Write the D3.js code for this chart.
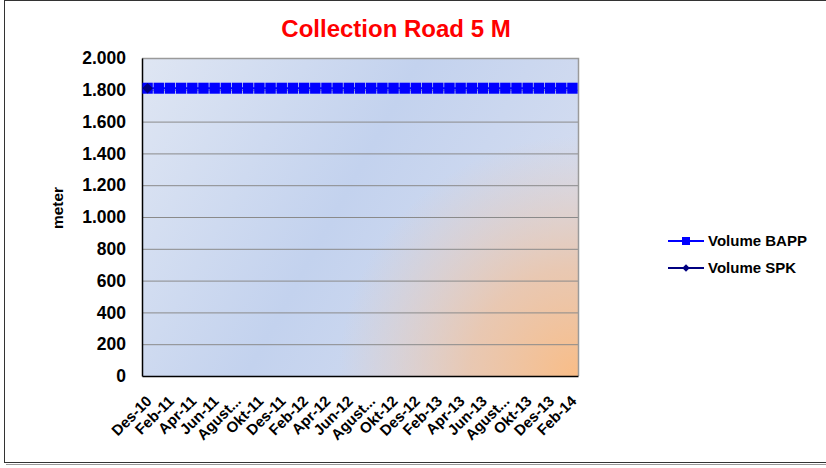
<!DOCTYPE html>
<html>
<head>
<meta charset="utf-8">
<script src="https://cdn.jsdelivr.net/npm/d3@7"></script>
<style>
  body { margin: 0; background: #fff; }
  svg { font-family: "Liberation Sans", Arial, sans-serif; }
</style>
</head>
<body>
<svg width="826" height="468"></svg>
<script>
const months = ['Des-10', 'Jan-11', 'Feb-11', 'Mar-11', 'Apr-11', 'Mei-11', 'Jun-11', 'Jul-11', 'Agustus-11', 'Sep-11', 'Okt-11', 'Nov-11',
  'Des-11', 'Jan-12', 'Feb-12', 'Mar-12', 'Apr-12', 'Mei-12', 'Jun-12', 'Jul-12', 'Agustus-12', 'Sep-12', 'Okt-12', 'Nov-12',
  'Des-12', 'Jan-13', 'Feb-13', 'Mar-13', 'Apr-13', 'Mei-13', 'Jun-13', 'Jul-13', 'Agustus-13', 'Sep-13', 'Okt-13', 'Nov-13',
  'Des-13', 'Jan-14', 'Feb-14'];
const volumeBAPP = [1810, 1810, 1810, 1810, 1810, 1810, 1810, 1810, 1810, 1810, 1810, 1810, 1810,
  1810, 1810, 1810, 1810, 1810, 1810, 1810, 1810, 1810, 1810, 1810, 1810, 1810,
  1810, 1810, 1810, 1810, 1810, 1810, 1810, 1810, 1810, 1810, 1810, 1810, 1810];
const volumeSPK = [1810, null, null, null, null, null, null, null, null, null, null, null, null,
  null, null, null, null, null, null, null, null, null, null, null, null, null,
  null, null, null, null, null, null, null, null, null, null, null, null, null];
const yTicks = [0, 200, 400, 600, 800, 1000, 1200, 1400, 1600, 1800, 2000];
const seriesNames = ['Volume BAPP', 'Volume SPK'];

const svg = d3.select('svg');
const plot = { left: 142, right: 578, top: 58, bottom: 376 };

// outer frame
svg.append('rect').attr('x', 4.5).attr('y', 0.5).attr('width', 830).attr('height', 462)
  .attr('fill', '#fff').attr('stroke', '#333').attr('stroke-width', 1);
svg.append('line').attr('x1', 6).attr('x2', 826).attr('y1', 464.5).attr('y2', 464.5)
  .attr('stroke', '#999').attr('stroke-width', 1);

// gradients
const defs = svg.append('defs');
const lin = defs.append('linearGradient').attr('id', 'bg')
  .attr('x1', '0%').attr('y1', '0%').attr('x2', '100%').attr('y2', '40%');
lin.append('stop').attr('offset', '0%').attr('stop-color', '#dfe6f3');
lin.append('stop').attr('offset', '55%').attr('stop-color', '#c3d2ee');
lin.append('stop').attr('offset', '100%').attr('stop-color', '#d3dcf0');
const rad = defs.append('radialGradient').attr('id', 'glow')
  .attr('gradientUnits', 'userSpaceOnUse')
  .attr('cx', plot.right).attr('cy', plot.bottom).attr('r', 240);
rad.append('stop').attr('offset', '0%').attr('stop-color', '#f9bd87').attr('stop-opacity', 1);
rad.append('stop').attr('offset', '45%').attr('stop-color', '#eec3a3').attr('stop-opacity', 0.8);
rad.append('stop').attr('offset', '100%').attr('stop-color', '#e8c8b4').attr('stop-opacity', 0);

const x = d3.scaleBand().domain(months).range([plot.left, plot.right]).padding(0);
const y = d3.scaleLinear().domain([0, 2000]).range([plot.bottom, plot.top]);

svg.append('rect').attr('x', plot.left).attr('y', plot.top)
  .attr('width', plot.right - plot.left).attr('height', plot.bottom - plot.top)
  .attr('fill', 'url(#bg)');
svg.append('rect').attr('x', plot.left).attr('y', plot.top)
  .attr('width', plot.right - plot.left).attr('height', plot.bottom - plot.top)
  .attr('fill', 'url(#glow)');

// grid
svg.append('g').selectAll('line').data(yTicks.slice(1, -1)).join('line')
  .attr('x1', plot.left).attr('x2', plot.right)
  .attr('y1', d => y(d) + 0.5).attr('y2', d => y(d) + 0.5)
  .attr('stroke', '#8a8a8a').attr('stroke-width', 1);

// plot border top/right
svg.append('path')
  .attr('d', `M${plot.left},${plot.top + 0.5}H${plot.right + 0.5}V${plot.bottom}`)
  .attr('fill', 'none').attr('stroke', '#9a9a9a').attr('stroke-width', 1.5);

// axes
const fmt = d => d3.format(',')(d).replace(/,/g, '.');
const yAxis = svg.append('g').attr('transform', `translate(${plot.left},0)`)
  .call(d3.axisLeft(y).tickValues(yTicks).tickSize(0).tickPadding(16).tickFormat(fmt));
yAxis.select('.domain').attr('stroke', '#000').attr('stroke-width', 1.5);
yAxis.selectAll('text').attr('font-size', 17.5).attr('font-weight', 'bold').attr('fill', '#000')
  .attr('font-family', '"Liberation Sans", Arial, sans-serif');

const shortLabel = m => m.startsWith('Agustus') ? 'Agust...' : m;
const xAxis = svg.append('g').attr('transform', `translate(0,${plot.bottom})`)
  .call(d3.axisBottom(x).tickValues(months.filter((m, i) => i % 2 === 0)).tickSize(0).tickFormat(shortLabel));
xAxis.select('.domain').attr('stroke', '#000').attr('stroke-width', 1.5);
xAxis.selectAll('text')
  .attr('font-size', 15).attr('font-weight', 'bold').attr('fill', '#000')
  .attr('font-family', '"Liberation Sans", Arial, sans-serif')
  .attr('text-anchor', 'end')
  .attr('dy', 0).attr('y', 0)
  .attr('transform', 'translate(5,26) rotate(-45)');

// series
const line = d3.line().defined(d => d.v != null)
  .x(d => x(d.m) + x.bandwidth() / 2).y(d => y(d.v));
const bapp = months.map((m, i) => ({ m, v: volumeBAPP[i] }));
const spk = months.map((m, i) => ({ m, v: volumeSPK[i] }));

svg.append('path').datum(bapp).attr('d', line).attr('fill', 'none').attr('stroke', '#0000ff').attr('stroke-width', 2);
svg.append('g').selectAll('rect').data(bapp.filter(d => d.v != null)).join('rect')
  .attr('x', d => x(d.m) + x.bandwidth() / 2 - 5.2).attr('y', d => y(d.v) - 5.5)
  .attr('width', 10.4).attr('height', 11).attr('fill', '#0000ff');

svg.append('path').datum(spk).attr('d', line).attr('fill', 'none').attr('stroke', '#000080').attr('stroke-width', 2);
svg.append('g').selectAll('path').data(spk.filter(d => d.v != null)).join('path')
  .attr('d', d3.symbol(d3.symbolDiamond2, 70))
  .attr('transform', d => `translate(${x(d.m) + x.bandwidth() / 2},${y(d.v)})`)
  .attr('fill', '#000080');

// title
svg.append('text').attr('x', 396).attr('y', 37).attr('text-anchor', 'middle')
  .attr('font-size', 24).attr('font-weight', 'bold').attr('fill', '#ff0000')
  .text('Collection Road 5 M');

// y label
svg.append('text').attr('transform', 'translate(63,208) rotate(-90)')
  .attr('text-anchor', 'middle').attr('font-size', 15.5).attr('font-weight', 'bold')
  .text('meter');

// legend
const legend = svg.append('g').selectAll('g').data(seriesNames).join('g')
  .attr('transform', (d, i) => `translate(668,${241 + i * 27})`);
legend.append('line').attr('x1', 0).attr('x2', 36).attr('y1', 0).attr('y2', 0)
  .attr('stroke', (d, i) => i === 0 ? '#0000ff' : '#000080').attr('stroke-width', 2);
legend.filter((d, i) => i === 0).append('rect').attr('x', 14).attr('y', -4).attr('width', 8).attr('height', 8).attr('fill', '#0000ff');
legend.filter((d, i) => i === 1).append('path').attr('d', d3.symbol(d3.symbolDiamond2, 36)).attr('transform', 'translate(18,0)').attr('fill', '#000080');
legend.append('text').attr('x', 40).attr('y', 5).attr('font-size', 15).attr('font-weight', 'bold').text(d => d);
</script>
</body>
</html>
